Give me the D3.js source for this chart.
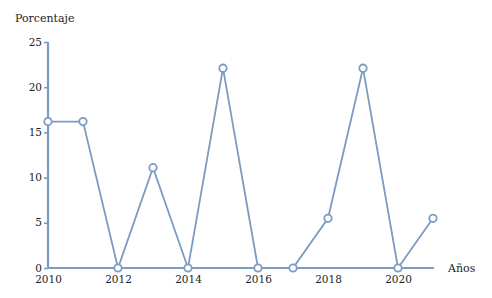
<!DOCTYPE html>
<html>
<head>
<meta charset="utf-8">
<script src="https://cdn.jsdelivr.net/npm/d3@7"></script>
<style>
  body { margin: 0; background: #fff; }
  svg text { font-family: "DejaVu Serif", "Liberation Serif", serif !important; }
</style>
</head>
<body>
<div id="chart"></div>
<script>
const years = [2010, 2011, 2012, 2013, 2014, 2015, 2016, 2017, 2018, 2019, 2020, 2021]
const values = [16.2, 16.2, 0, 11.1, 0, 22.1, 0, 0, 5.5, 22.1, 0, 5.5]
const xTicks = [2010, 2012, 2014, 2016, 2018, 2020]
const yTicks = [0, 5, 10, 15, 20, 25]

const color = '#7c9bc1'

function DrawLineChart() {
    var width = 492, height = 298;
    var svg = d3.select('#chart').append('svg')
        .attr('width', width)
        .attr('height', height)

    var xScale = d3.scaleLinear().domain([2010, 2021]).range([48, 433]);
    var yScale = d3.scaleLinear().domain([0, 25]).range([268, 42]);

    // y axis
    var yAxis = svg.append('g')
        .attr('transform', 'translate(48,0)')
        .call(d3.axisLeft(yScale).tickValues(yTicks).tickSize(4).tickPadding(2))
    yAxis.attr('font-family', null)
    yAxis.select('.domain').remove()
    yAxis.selectAll('line').attr('stroke', color).attr('stroke-width', 1.6)
    yAxis.selectAll('text').attr('font-size', '10.5px').attr('fill', '#222').attr('dy', '0.3em')
    svg.append('line')
        .attr('x1', 48).attr('x2', 48)
        .attr('y1', yScale(0) + 1).attr('y2', yScale(25))
        .attr('stroke', color).attr('stroke-width', 2.2)

    // x axis
    var xAxis = svg.append('g')
        .attr('transform', 'translate(0,268)')
        .call(d3.axisBottom(xScale).tickValues(xTicks).tickFormat(d3.format('d')).tickSize(0).tickPadding(8))
    xAxis.attr('font-family', null)
    xAxis.select('.domain').remove()
    xAxis.selectAll('text').attr('font-size', '10.5px').attr('fill', '#222')
    svg.append('line')
        .attr('x1', 47).attr('x2', 434)
        .attr('y1', yScale(0)).attr('y2', yScale(0))
        .attr('stroke', color).attr('stroke-width', 2.2)

    // labels
    svg.append('text').text('Porcentaje')
        .attr('x', 15).attr('y', 22)
        .attr('font-size', '11px').attr('fill', '#222')
    svg.append('text').text('Años')
        .attr('x', 448).attr('y', 272)
        .attr('font-size', '11px').attr('fill', '#222')

    var pts = years.map((y, i) => ({ year: y, value: values[i] }))

    svg.append('path')
        .datum(pts)
        .attr('fill', 'none')
        .attr('stroke', color)
        .attr('stroke-width', 1.8)
        .attr('d', d3.line().x(d => xScale(d.year)).y(d => yScale(d.value)))

    svg.selectAll('.pt')
        .data(pts)
        .enter()
        .append('circle')
        .attr('cx', d => xScale(d.year))
        .attr('cy', d => yScale(d.value))
        .attr('r', 3.7)
        .attr('fill', '#fff')
        .attr('stroke', color)
        .attr('stroke-width', 1.8)
}

DrawLineChart()
</script>
</body>
</html>
